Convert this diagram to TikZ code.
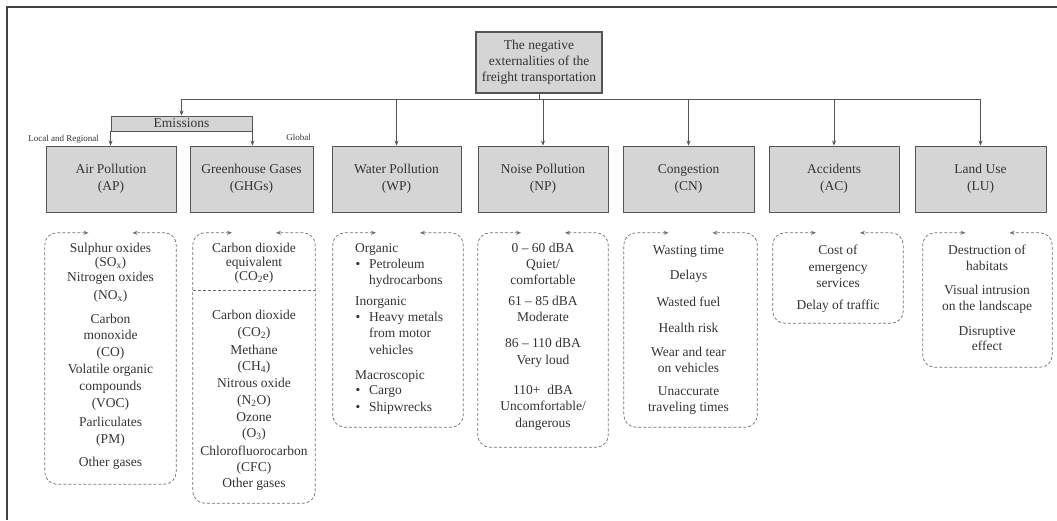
\documentclass[tikz,border=0pt]{standalone}
\usepackage{fontspec}
\setmainfont{Liberation Serif}
\usetikzlibrary{arrows.meta}
\definecolor{txtc}{HTML}{333333}
\definecolor{boxfill}{HTML}{D5D5D5}
\definecolor{boxline}{HTML}{555555}
\definecolor{dline}{HTML}{707070}
\begin{document}
\begin{tikzpicture}[x=1pt,y=-1pt,
  every node/.style={text=txtc},
  catbox/.style={draw=boxline, fill=boxfill, line width=0.9pt, minimum height=66pt, align=center, inner sep=0pt, font=\fontsize{13.5}{17}\selectfont},
  topbox/.style={draw=boxline, fill=boxfill, line width=2pt, minimum width=126pt, minimum height=61pt, align=center, inner sep=0pt, font=\fontsize{13.5}{16}\selectfont},
  emisbox/.style={draw=boxline, fill=boxfill, line width=0.9pt, minimum width=141pt, minimum height=15pt, inner sep=0pt, font=\fontsize{13.5}{16}\selectfont},
  lbl/.style={inner sep=0pt, text height=9.5pt, text depth=3pt, font=\fontsize{13.5}{16}\selectfont},
  lblw/.style={lbl, anchor=west},
  small/.style={inner sep=0pt, font=\fontsize{9}{10}\selectfont},
  dnode/.style={inner sep=0pt, draw=none, rectangle},
  conn/.style={draw=boxline, line width=0.8pt},
  arr/.style={conn, -{Stealth[length=5pt,width=4pt]}},
  dframe/.style={draw=dline, dash pattern=on 3pt off 2pt, line width=0.7pt, rounded corners=12pt, {Stealth[length=5pt,width=4pt]}-{Stealth[length=5pt,width=4pt]}},
  sep/.style={draw=dline, dash pattern=on 3pt off 2pt, line width=0.7pt}
]
\useasboundingbox (0,0) rectangle (1057,520);
% frame
\draw[draw=black!75, line width=1.3pt] (1057,7) -- (7,7) -- (7,520);

% top node
\node[topbox] (top) at (539,62.5) {The negative\\externalities of the\\freight transportation};

% emissions
\node[emisbox] (emis) at (181.5,123.5) {Emissions};
\node[small] (loc) at (63.5,139) {Local and Regional};
\node[small] (glob) at (298.5,137) {Global};

% category boxes
\node[catbox, minimum width=130pt] (AP) at (111,179) {Air Pollution\\(AP)};
\node[catbox, minimum width=123pt] (GHG) at (251.5,179) {Greenhouse Gases\\(GHGs)};
\node[catbox, minimum width=129pt] (WP) at (396.5,179) {Water Pollution\\(WP)};
\node[catbox, minimum width=130pt] (NP) at (543,179) {Noise Pollution\\(NP)};
\node[catbox, minimum width=131pt] (CN) at (688.5,179) {Congestion\\(CN)};
\node[catbox, minimum width=130pt] (AC) at (834,179) {Accidents\\(AC)};
\node[catbox, minimum width=131pt] (LU) at (980.5,179) {Land Use\\(LU)};

% bus
\coordinate (busL) at (181.5,99);
\coordinate (busR) at (980.5,99);
\draw[conn] (busL) -- (busR);
\draw[conn] (top.south) -- (top.south |- busL);
\draw[arr] (busL) -- (emis.north);
\foreach \n in {WP,NP,CN,AC,LU}
  \draw[arr] (\n.north |- busL) -- (\n.north);
\draw[arr] (emis.south west) -- (emis.south west |- AP.north);
\draw[arr] (emis.south east) -- (emis.south east |- GHG.north);

% dashed boxes
\node[dnode, minimum width=131pt, minimum height=251pt] (APd) at (110.5,358.5) {};
\node[dnode, minimum width=122pt, minimum height=270pt] (GHGd) at (254,368) {};
\node[dnode, minimum width=130pt, minimum height=194pt] (WPd) at (398,330) {};
\node[dnode, minimum width=130pt, minimum height=214pt] (NPd) at (543,340) {};
\node[dnode, minimum width=133pt, minimum height=194pt] (CNd) at (690.5,330) {};
\node[dnode, minimum width=130pt, minimum height=90pt] (ACd) at (838,278) {};
\node[dnode, minimum width=129pt, minimum height=134pt] (LUd) at (987.5,300) {};
\foreach \b in {APd,GHGd,WPd,NPd,CNd,ACd,LUd}
  \draw[dframe] ([xshift=-22pt]\b.north) -- (\b.north west) -- (\b.south west) -- (\b.south east) -- (\b.north east) -- ([xshift=22pt]\b.north);
\draw[sep] (GHGd.west |- 0,290) -- (GHGd.east |- 0,290);

% AP texts
\foreach \lineY/\lineT [count=\i] in {249/Sulphur oxides, 263/(SO\textsubscript{x}), 278/Nitrogen oxides, 296/(NO\textsubscript{x}), 320/Carbon, 336/monoxide, 353/(CO), 370/Volatile organic, 387/compounds, 404/(VOC), 423/Parliculates, 440/(PM), 463/Other gases}
  \node[lbl] (APt\i) at (110.5,\lineY) {\lineT};

% GHG texts
\foreach \lineY/\lineT [count=\i] in {249/Carbon dioxide, 263/equivalent, 277/(CO\textsubscript{2}e), 316/Carbon dioxide, 333/(CO\textsubscript{2}), 351/Methane, 367/(CH\textsubscript{4}), 384/Nitrous oxide, 401/(N\textsubscript{2}O), 418/Ozone, 434/(O\textsubscript{3}), 452/Chlorofluorocarbon, 468/(CFC), 484/Other gases}
  \node[lbl] (GHGt\i) at (254,\lineY) {\lineT};

% WP texts
\node[lblw] (WPt1) at (355,249) {Organic};
\node[lbl] (WPb1) at (358,265) {\textbullet};
\node[lblw] (WPt2) at (369,265) {Petroleum};
\node[lblw] (WPt3) at (369,281) {hydrocarbons};
\node[lblw] (WPt4) at (355,302) {Inorganic};
\node[lbl] (WPb2) at (358,318) {\textbullet};
\node[lblw] (WPt5) at (369,318) {Heavy metals};
\node[lblw] (WPt6) at (369,334) {from motor};
\node[lblw] (WPt7) at (369,351) {vehicles};
\node[lblw] (WPt8) at (355,376) {Macroscopic};
\node[lbl] (WPb3) at (358,391) {\textbullet};
\node[lblw] (WPt9) at (369,391) {Cargo};
\node[lbl] (WPb4) at (358,408) {\textbullet};
\node[lblw] (WPt10) at (369,408) {Shipwrecks};

% NP texts
\foreach \lineY/\lineT [count=\i] in {249/0 – 60 dBA, 265/{Quiet/}, 281/comfortable, 302/61 – 85 dBA, 318/Moderate, 344/86 – 110 dBA, 361/Very loud, 391/110+~~dBA, 407/{Uncomfortable/}, 424/dangerous}
  \node[lbl] (NPt\i) at (543,\lineY) {\lineT};

% CN texts
\foreach \lineY/\lineT [count=\i] in {251/Wasting time, 276/Delays, 303/Wasted fuel, 329/Health risk, 353/Wear and tear, 369/on vehicles, 392/Unaccurate, 408/traveling times}
  \node[lbl] (CNt\i) at (688.5,\lineY) {\lineT};

% AC texts
\foreach \lineY/\lineT [count=\i] in {251/Cost of, 268/emergency, 284/services, 306/Delay of traffic}
  \node[lbl] (ACt\i) at (838,\lineY) {\lineT};

% LU texts
\foreach \lineY/\lineT [count=\i] in {251/Destruction of, 267/habitats, 291/Visual intrusion, 307/on the landscape, 332/Disruptive, 347/effect}
  \node[lbl] (LUt\i) at (987,\lineY) {\lineT};
\end{tikzpicture}
\end{document}
